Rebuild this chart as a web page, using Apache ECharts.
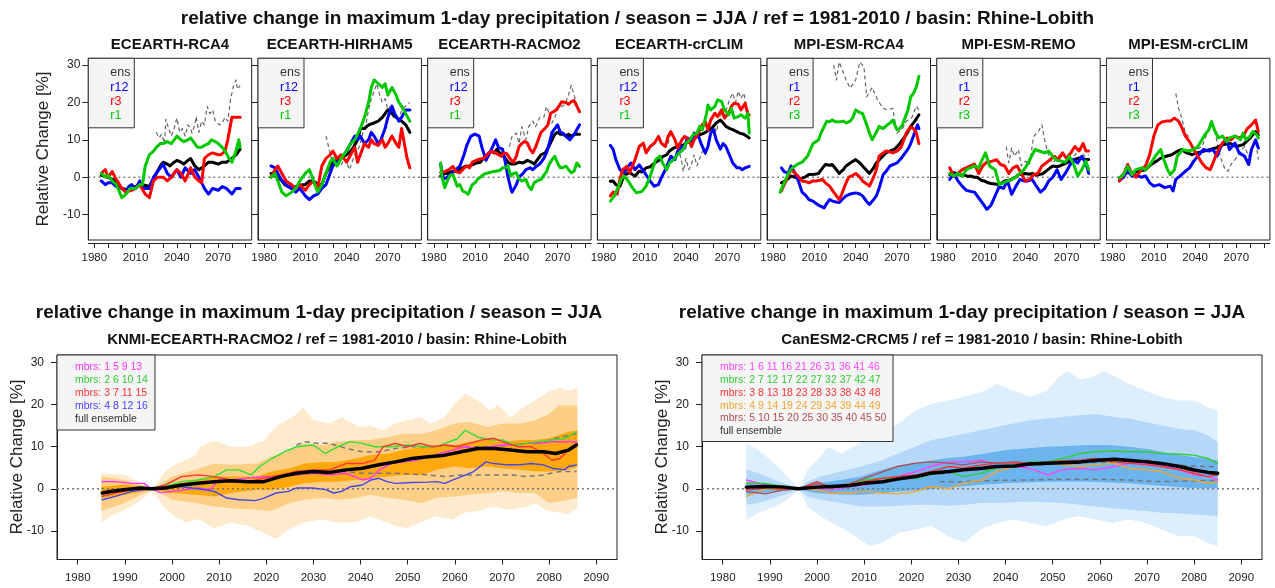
<!DOCTYPE html>
<html>
<head>
<meta charset="utf-8">
<script src="https://cdn.jsdelivr.net/npm/echarts@6/dist/echarts.min.js"></script>
<style>
html,body{margin:0;padding:0;background:#fff}
#chart{width:1275px;height:588px}
</style>
</head>
<body>
<div id="chart"></div>
<script>
// ---------- axis ranges and ticks ----------
const X_MIN = 1975.6, X_MAX = 2094.4;
const Y_MIN = -16.8, Y_MAX = 31.8;
const X_TICKS = [1980, 1990, 2000, 2010, 2020, 2030, 2040, 2050, 2060, 2070, 2080, 2090];
const TOP_X_LABELS = [1980, 2010, 2040, 2070];
const Y_TICKS = [-10, 0, 10, 20, 30];

// ---------- titles ----------
const MAIN_TITLE = 'relative change in maximum 1-day precipitation / season = JJA / ref = 1981-2010 / basin: Rhine-Lobith';
const SUB_TITLE = 'relative change in maximum 1-day precipitation / season = JJA';
const KNMI_TITLE = 'KNMI-ECEARTH-RACMO2 / ref = 1981-2010 / basin: Rhine-Lobith';
const CAN_TITLE = 'CanESM2-CRCM5 / ref = 1981-2010 / basin: Rhine-Lobith';
const Y_NAME = 'Relative Change [%]';
const TOP_MODELS = ['ECEARTH-RCA4', 'ECEARTH-HIRHAM5', 'ECEARTH-RACMO2', 'ECEARTH-crCLIM', 'MPI-ESM-RCA4', 'MPI-ESM-REMO', 'MPI-ESM-crCLIM'];
const TOP_MEMBERS = [
  ['r12', 'r3', 'r1'], ['r12', 'r3', 'r1'], ['r12', 'r3', 'r1'], ['r12', 'r3', 'r1'],
  ['r1', 'r2', 'r3'], ['r1', 'r2', 'r3'], ['r1', 'r2', 'r3']
];
const KNMI_LEGEND = ['mbrs: 1 5 9 13', 'mbrs: 2 6 10 14', 'mbrs: 3 7 11 15', 'mbrs: 4 8 12 16', 'full ensemble'];
const CAN_LEGEND = ['mbrs: 1 6 11 16 21 26 31 36 41 46', 'mbrs: 2 7 12 17 22 27 32 37 42 47', 'mbrs: 3 8 13 18 23 28 33 38 43 48',
  'mbrs: 4 9 14 19 24 29 34 39 44 49', 'mbrs: 5 10 15 20 25 30 35 40 45 50', 'full ensemble'];

// ---------- ECEARTH-RCA4 ----------
const EC_RCA4_ENS = [[1985,0.5],[1990,0],[1995,-1],[2000,-3],[2003,-3.3],[2005,-3.5],[2008,-3],[2010,-2.5],[2013,-2.2],[2015,-2],[2018,-2.3],[2020,-2.5],[2022,-1],[2025,1],[2028,3],[2030,4],[2033,3.5],[2035,3],[2038,4],[2040,4.5],[2043,4],[2045,3.5],[2048,4.5],[2050,5],[2053,3],[2056,2],[2060,3],[2063,4],[2066,4],[2070,3.5],[2073,4],[2076,4],[2080,5],[2083,6],[2086,7.5]];
const EC_RCA4_R12 = [[1985,-1],[1988,-2],[1990,-1.5],[1993,-1.5],[1996,-2.5],[2000,-3],[2003,-4],[2005,-2.5],[2007,-2],[2010,-3],[2013,-1],[2016,-3],[2020,-3],[2023,0],[2027,2],[2030,3.5],[2033,1],[2036,0],[2040,2],[2043,0],[2046,2.5],[2050,1],[2053,2],[2056,0],[2060,-3],[2063,-4.5],[2066,-3],[2070,-3.5],[2073,-2.5],[2076,-3],[2080,-4.5],[2083,-3],[2086,-3]];
const EC_RCA4_R3 = [[1985,1],[1988,2],[1990,0],[1993,1.5],[1995,0],[2000,-3],[2003,-4],[2007,-3.5],[2010,-3],[2013,-2],[2017,-4.5],[2020,-5.5],[2023,-1],[2026,0],[2030,0],[2033,-1],[2036,0],[2040,2],[2043,1],[2046,-1],[2050,2.5],[2053,0],[2056,-1],[2058,-1.5],[2060,5],[2063,6],[2066,6.5],[2070,6],[2072,6],[2075,7],[2077,10],[2080,16],[2083,16],[2086,16]];
const EC_RCA4_R1 = [[1985,1],[1988,0],[1990,0.5],[1993,-1],[1996,-2],[2000,-5.5],[2003,-4.5],[2006,-3],[2010,-3],[2013,-2],[2015,-2],[2017,3],[2020,6],[2023,7],[2025,8],[2028,9],[2030,9],[2033,9.5],[2036,9],[2040,11],[2043,10],[2045,9.5],[2048,10],[2050,10.5],[2053,9],[2055,8],[2058,8],[2060,8.5],[2063,9],[2065,10],[2068,9.5],[2070,9],[2073,8],[2075,7],[2078,5],[2080,4],[2083,7],[2085,10],[2086,8]];
const EC_RCA4_DASH = [[2025,12],[2027,10.5],[2029,11.5],[2031,9],[2032,15.5],[2034,13],[2036,11],[2038,13],[2040,15.8],[2042,12],[2044,13],[2046,11],[2048,14],[2050,13],[2051,11.8],[2053,14],[2054,16.2],[2056,12],[2058,15],[2060,14],[2062,18.9],[2064,17],[2066,18],[2068,15],[2071,14],[2073,14.5],[2075,16],[2077,15],[2079,20.7],[2081,24.2],[2083,26],[2084,23.5],[2086,24.5]];

// ---------- ECEARTH-HIRHAM5 ----------
const EC_HIRHAM5_ENS = [[1985,1],[1988,0.5],[1990,0],[1993,-1],[1995,-2],[2000,-3],[2003,-2.5],[2005,-2.5],[2008,-2],[2010,-2],[2013,-1],[2015,-1],[2018,-1.5],[2020,-2],[2022,-2],[2025,1],[2028,3],[2030,4],[2033,4.5],[2035,5],[2038,5.5],[2040,6],[2043,7],[2045,8],[2048,10],[2050,13],[2053,13],[2056,14],[2060,14.5],[2063,15],[2066,16],[2070,18],[2073,17],[2076,16],[2080,15],[2083,14],[2086,12]];
const EC_HIRHAM5_R12 = [[1985,3],[1988,2.5],[1990,1],[1993,-1],[1996,-2],[2000,-3],[2003,-4],[2006,-3],[2010,-5],[2013,-6],[2016,-5],[2019,-4.5],[2022,-3],[2025,-2],[2028,1],[2030,3],[2033,4],[2036,5],[2040,7],[2043,9],[2046,11],[2048,10],[2050,11],[2053,9],[2056,10],[2058,12],[2060,11],[2063,9],[2065,10],[2068,13],[2070,16],[2073,19],[2075,17],[2078,15],[2080,16],[2083,18],[2086,18]];
const EC_HIRHAM5_R3 = [[1985,0],[1988,2],[1990,3],[1993,1],[1996,-1],[2000,-2],[2003,-3],[2006,-2],[2010,-3.5],[2013,-2],[2016,-1],[2019,-3],[2022,3],[2025,5],[2028,6],[2030,7],[2033,5],[2036,6],[2040,4],[2043,6],[2046,8],[2048,4],[2050,6],[2053,9],[2056,8],[2058,10],[2060,9],[2063,8.5],[2066,10],[2068,8],[2070,9],[2073,11],[2076,9],[2078,8],[2080,13],[2082,9],[2084,5],[2086,2.5]];
const EC_HIRHAM5_R1 = [[1985,0],[1988,1],[1990,-1],[1993,-4],[1996,-5],[2000,-4],[2003,-3],[2006,-1],[2010,1],[2013,2],[2016,-1],[2019,-4],[2022,-2],[2025,1],[2028,4],[2030,5],[2033,3],[2036,5],[2040,7],[2043,9],[2046,10],[2050,13],[2053,16],[2056,20],[2058,24],[2060,26],[2063,25],[2066,24],[2068,25],[2070,22],[2073,24],[2076,22],[2078,20],[2080,19],[2083,17],[2086,15]];
const EC_HIRHAM5_DASH = [[2025,11],[2027,8],[2029,5],[2031,6],[2033,4],[2036,3],[2038,5],[2040,4],[2042,2],[2044,4],[2046,6],[2048,7],[2050,9],[2052,12],[2054,14],[2056,18],[2058,21],[2060,23],[2062,25],[2064,22],[2066,20],[2068,21],[2070,18],[2072,19],[2074,16],[2076,17],[2078,15],[2080,18],[2083,19],[2086,20]];

// ---------- ECEARTH-RACMO2 ----------
const EC_RACMO2_ENS = [[1985,0.3],[1988,1],[1990,1],[1994,1.6],[1998,2],[2001,2.5],[2003,2.9],[2006,3],[2008,3.3],[2011,3.8],[2014,4],[2016,5],[2018,5.6],[2020,6.5],[2022,7],[2024,6.5],[2026,7.5],[2028,6.5],[2030,6],[2032,5],[2034,4],[2036,3.5],[2039,3.5],[2042,4],[2045,3.8],[2048,4.5],[2051,4],[2053,3.5],[2056,5],[2058,6],[2061,6.5],[2064,8.5],[2066,10],[2068,11.5],[2070,12],[2072,11.5],[2074,11.5],[2076,11],[2078,11.5],[2080,11],[2083,11.5],[2086,11.5]];
const EC_RACMO2_R12 = [[1985,3.4],[1987,-0.5],[1990,0],[1993,1],[1996,2],[1999,3],[2002,6],[2004,8.5],[2007,11],[2010,11.5],[2013,11],[2015,8],[2018,4.5],[2020,6],[2022,7.5],[2025,10],[2027,8],[2030,7.5],[2032,4],[2034,0],[2036,-3],[2037,-4],[2040,-2],[2042,0],[2045,1],[2047,2],[2050,2.5],[2052,2],[2055,3],[2057,3.5],[2060,5],[2062,6.5],[2064,9],[2066,12],[2068,13],[2070,14],[2072,12],[2074,11.8],[2076,11],[2079,10],[2081,11],[2083,12],[2086,14]];
const EC_RACMO2_R3 = [[1985,1.2],[1988,1.5],[1991,2],[1994,2.9],[1996,1.5],[1999,1.2],[2001,2],[2004,3],[2006,2.5],[2008,4],[2011,4.5],[2013,4.8],[2016,5],[2018,5.6],[2020,6.5],[2022,6.9],[2025,6.5],[2027,6],[2029,5.6],[2031,6.5],[2033,6.3],[2036,4.7],[2038,4],[2040,5.6],[2042,8.2],[2044,9],[2046,9.6],[2048,9.2],[2050,7.5],[2052,6.5],[2054,8],[2056,10],[2058,12],[2060,12.7],[2063,14],[2065,17.1],[2067,17.5],[2069,18],[2071,19],[2073,20.2],[2076,20],[2078,19.5],[2080,20.2],[2082,20.5],[2084,19],[2086,17.5]];
const EC_RACMO2_R1 = [[1985,3.8],[1986,0],[1988,-2.8],[1990,-0.8],[1992,0.5],[1994,0.7],[1997,-2.4],[1999,-2],[2001,-3.7],[2003,-4],[2005,-4.6],[2008,-2],[2010,-1.5],[2012,-0.5],[2014,0],[2016,0.7],[2018,1],[2020,1.2],[2023,1.5],[2025,1.6],[2028,1.8],[2030,2.5],[2032,2.5],[2034,3],[2036,0.3],[2038,1],[2040,1.2],[2042,-0.5],[2044,-1],[2047,-0.6],[2049,-2.5],[2051,-3.3],[2053,-1.5],[2055,-1],[2058,-0.6],[2060,0.5],[2062,1.5],[2064,3.5],[2066,4.7],[2068,5.6],[2070,3.8],[2072,2.5],[2074,2.6],[2076,3],[2078,2],[2080,1.2],[2082,1.6],[2084,3.8],[2086,2.9]];
const EC_RACMO2_DASH = [[2035,8.2],[2037,11],[2040,11.8],[2042,9],[2044,13.5],[2047,10],[2049,13.5],[2052,15],[2054,13.5],[2057,16],[2060,16],[2062,18.9],[2064,17],[2066,14.5],[2068,16],[2071,18.9],[2074,19],[2076,20],[2078,22],[2080,24.6],[2082,22],[2084,19.5],[2086,18]];

// ---------- ECEARTH-crCLIM ----------
const EC_CRCLIM_ENS = [[1985,-1.1],[1987,-1],[1989,-2],[1992,-2.4],[1994,-0.5],[1996,0.7],[1999,1.2],[2003,0.3],[2006,1.6],[2008,1.4],[2011,2.5],[2014,2.8],[2016,3.4],[2018,4],[2021,4.7],[2023,5.5],[2026,6],[2028,7],[2031,7.8],[2033,8],[2035,8.7],[2038,8.5],[2040,9.1],[2043,9.6],[2045,10.5],[2048,10.8],[2050,11.3],[2053,11.8],[2055,12.2],[2058,13],[2060,13.6],[2062,14.5],[2065,15.3],[2067,14.5],[2069,13.6],[2072,13],[2074,12.7],[2077,12.2],[2079,11.8],[2082,11.5],[2084,11],[2086,10.5]];
const EC_CRCLIM_R12 = [[1985,8.5],[1987,7.5],[1989,4.7],[1992,2],[1995,1.2],[1998,2.9],[2000,3.8],[2003,2],[2006,3.3],[2010,1.2],[2014,-1.1],[2017,-2.4],[2020,-2],[2022,-0.2],[2025,2],[2027,3.8],[2029,5.6],[2032,4.7],[2034,7],[2037,8.2],[2039,7.8],[2041,10.5],[2044,9.6],[2046,11.8],[2049,11],[2051,9],[2054,6.5],[2056,8.2],[2058,11.8],[2060,12.7],[2062,10],[2065,7.5],[2067,9],[2069,8.2],[2072,5.6],[2074,3.8],[2077,2.5],[2079,2.5],[2081,2],[2083,2.5],[2086,2.9]];
const EC_CRCLIM_R3 = [[1985,-5],[1987,-4],[1990,-4.5],[1992,-0.5],[1994,2],[1997,2.9],[1999,1.2],[2003,4.7],[2006,8.2],[2009,9.1],[2011,6.5],[2014,8.2],[2017,9.1],[2020,10.9],[2022,9.1],[2025,8.2],[2027,10.9],[2029,12.2],[2032,10],[2034,7.8],[2037,10],[2039,10.9],[2042,10],[2044,8.2],[2046,10],[2049,11.8],[2051,13.6],[2054,14.9],[2056,12.7],[2058,15.3],[2061,17.1],[2063,16.2],[2066,18],[2068,15.8],[2071,17.1],[2073,18.9],[2075,19.8],[2078,19.5],[2080,18],[2083,19.8],[2085,16.7],[2086,16.7]];
const EC_CRCLIM_R1 = [[1985,-6.4],[1988,-5],[1991,-2.4],[1993,-0.5],[1995,0.3],[1998,-1],[2001,-2.8],[2004,-4.2],[2008,-3.8],[2011,-2.4],[2014,0.3],[2016,2.5],[2018,4.7],[2021,5.6],[2023,3.8],[2026,2],[2028,3.8],[2031,4.7],[2033,5.6],[2035,6.5],[2038,7.4],[2040,9.1],[2043,10],[2045,11.3],[2048,11.8],[2050,13.6],[2052,12.7],[2055,17.1],[2056,19.3],[2058,18],[2061,18.9],[2063,20.7],[2066,20.2],[2068,18],[2071,16.7],[2073,18.4],[2075,15.8],[2078,16.2],[2080,16.7],[2083,15.8],[2085,17.1],[2086,11.8]];
const EC_CRCLIM_DASH = [[2027,9],[2029,12],[2031,10.9],[2033,9],[2035,7],[2037,4],[2038,1.5],[2040,5],[2042,2],[2044,3.5],[2046,6],[2048,3],[2050,5],[2052,7],[2054,6],[2056,8],[2058,12.7],[2060,14],[2062,12],[2064,15.3],[2066,17],[2068,16],[2070,18.9],[2072,21],[2074,22.5],[2076,20],[2078,23],[2080,21],[2082,22.5],[2084,19],[2086,17]];

// ---------- MPI-ESM-RCA4 ----------
const MPI_RCA4_ENS = [[1986,-1.5],[1989,-1],[1993,0.3],[1996,0],[1999,-0.6],[2003,0],[2006,0.7],[2010,0.8],[2013,1],[2016,2.5],[2018,3.4],[2021,3.2],[2023,3.4],[2026,2],[2028,1],[2031,2],[2033,3],[2036,3.8],[2040,4.7],[2043,3.8],[2045,3],[2048,1.8],[2050,1],[2053,2.5],[2055,3.8],[2058,5],[2062,6.5],[2065,7],[2068,7.4],[2071,8.5],[2074,10],[2077,11.5],[2080,13.6],[2083,15],[2086,16.7]];
const MPI_RCA4_R1 = [[1986,2.5],[1988,1.5],[1991,1],[1993,3],[1996,1],[1998,-0.6],[2001,-4],[2004,-5],[2006,-6],[2009,-6.4],[2011,-7],[2014,-7.7],[2017,-8.2],[2019,-7],[2021,-6],[2024,-6.5],[2028,-6.8],[2030,-6],[2033,-5],[2036,-4.5],[2040,-4.2],[2043,-4.5],[2045,-5],[2048,-6.5],[2050,-7.3],[2053,-6],[2055,-5],[2057,-3],[2060,0.7],[2062,1.5],[2065,3],[2068,3.5],[2070,3.8],[2073,5],[2076,6.5],[2078,7.5],[2080,9],[2082,11],[2085,14],[2086,13]];
const MPI_RCA4_R2 = [[1986,-3.7],[1988,-2],[1991,0.5],[1993,2],[1996,1],[1998,0.3],[2001,-1],[2004,-1.2],[2006,-1.5],[2009,-1],[2011,-1],[2014,-0.8],[2016,-0.6],[2018,-1.5],[2021,-2.4],[2024,-4],[2026,-5],[2028,-6],[2030,-4.4],[2033,-1.5],[2035,0],[2038,0.5],[2040,1],[2043,0],[2045,-1],[2048,-1.8],[2050,-2.4],[2053,0],[2055,2],[2057,5.6],[2060,6.5],[2062,7],[2065,6.8],[2067,6.5],[2070,7],[2073,8],[2075,10],[2077,12],[2080,13.5],[2082,13],[2084,12],[2086,9]];
const MPI_RCA4_R3 = [[1985,-4],[1988,-1.5],[1991,1],[1994,2.5],[1998,3.5],[2001,4],[2005,5.6],[2009,9],[2011,9.5],[2013,10],[2015,12],[2017,13.5],[2019,15],[2021,14.8],[2023,15.3],[2025,14.8],[2028,14.8],[2031,15],[2033,14.5],[2036,15],[2038,16],[2040,18],[2042,17.5],[2045,17],[2048,14],[2050,11.8],[2052,10],[2055,12],[2057,13.6],[2060,13],[2063,14],[2065,14.5],[2067,15.3],[2070,12.7],[2072,13],[2074,14],[2076,16],[2078,18],[2080,21.5],[2082,22.4],[2084,24],[2086,27]];
const MPI_RCA4_DASH = [[2024,30],[2026,26],[2028,30.8],[2030,29],[2033,26],[2036,23.8],[2040,26],[2043,30.8],[2046,29.5],[2048,21.5],[2052,24],[2056,20.6],[2060,18.4],[2063,18],[2067,18.4],[2070,11.8],[2074,13],[2077,15],[2081,16],[2084,19],[2086,18]];

// ---------- MPI-ESM-REMO ----------
const MPI_REMO_ENS = [[1985,0.7],[1988,1.2],[1990,1],[1993,0.5],[1995,0.7],[1998,0.2],[2000,0.3],[2003,0],[2005,0],[2008,-0.8],[2010,-1],[2013,-1.5],[2015,-1.7],[2018,-1.8],[2020,-2],[2023,-1.5],[2025,-1],[2028,-0.8],[2030,-0.6],[2033,0],[2035,0.7],[2038,0.8],[2040,1],[2043,0.8],[2045,1],[2048,0.5],[2050,0.7],[2053,1],[2055,1.6],[2058,2.5],[2060,3],[2063,2.8],[2065,3],[2068,3.5],[2070,3.8],[2073,4.5],[2075,4.7],[2078,5],[2080,5.2],[2083,4.8],[2086,4.7]];
const MPI_REMO_R1 = [[1985,-0.6],[1988,1],[1991,-1],[1994,-2.4],[1997,-3.5],[2000,-3.8],[2003,-4],[2006,-5.5],[2009,-7],[2012,-8.6],[2015,-7.5],[2018,-5],[2021,-2.5],[2024,-3],[2027,-1],[2030,-4.6],[2033,-2.5],[2036,-0.6],[2039,-1],[2042,-1],[2045,-0.6],[2048,-2.4],[2051,-4],[2054,-3],[2057,-1],[2060,0],[2063,2],[2066,-0.6],[2069,1],[2072,3],[2075,4.7],[2078,3.8],[2081,5.6],[2084,3.8],[2086,1]];
const MPI_REMO_R2 = [[1985,2.5],[1988,0.3],[1991,1],[1994,2],[1997,2.5],[2000,3],[2003,3.5],[2006,1],[2009,3],[2012,4],[2016,4.3],[2019,4.7],[2022,3.4],[2025,3],[2028,1],[2031,2.5],[2034,3],[2037,1],[2040,-1],[2043,-0.6],[2046,0.7],[2049,1],[2052,3],[2055,3.8],[2058,4.7],[2061,5.6],[2064,4.7],[2067,6.5],[2070,5],[2073,6.5],[2076,8.2],[2079,7],[2082,9],[2084,7],[2086,7]];
const MPI_REMO_R3 = [[1985,1],[1988,0.3],[1991,1],[1994,0.3],[1997,2],[2000,2.5],[2003,3],[2006,2.5],[2009,5],[2011,6.5],[2014,3],[2018,2],[2021,-2],[2024,-1.5],[2027,-1],[2030,-0.6],[2033,0],[2036,1],[2039,2],[2042,3.8],[2045,6],[2047,7.4],[2050,7],[2054,6.5],[2057,7],[2060,5.5],[2063,4.5],[2066,4.3],[2069,4],[2072,5.6],[2075,3.5],[2078,0.3],[2081,2],[2084,4.3],[2086,2]];
const MPI_REMO_DASH = [[2026,8.2],[2028,3.8],[2030,7.8],[2032,5.6],[2035,7.4],[2037,3],[2040,4.3],[2043,3.4],[2046,10.9],[2049,12],[2052,14],[2054,10],[2057,5.6],[2060,3.8],[2064,5.6],[2067,6.5],[2071,4.7],[2075,5.6],[2080,7.4],[2083,5.6],[2086,6]];

// ---------- MPI-ESM-crCLIM ----------
const MPI_CRCLIM_ENS = [[1985,-0.2],[1990,1.2],[1994,1.2],[1999,1.6],[2004,2],[2008,3.4],[2012,4.3],[2015,5.1],[2019,5.6],[2023,6],[2027,6.9],[2030,7.4],[2034,6.5],[2038,6],[2041,6.5],[2046,6.9],[2051,7.4],[2055,7.8],[2060,8.7],[2065,9.1],[2070,8.2],[2075,8.7],[2080,10.5],[2084,12.2],[2086,11.3]];
const MPI_CRCLIM_R1 = [[1985,-1],[1988,0],[1991,2],[1994,0.3],[1997,0.5],[2001,0],[2004,0.3],[2007,-1.5],[2010,-2.4],[2014,-2],[2018,-2.8],[2022,-2.4],[2024,-3.7],[2026,-0.6],[2029,0.3],[2033,1.6],[2036,2.5],[2039,4.3],[2042,5.6],[2046,7.4],[2050,7],[2053,7.4],[2056,5.6],[2058,7.4],[2060,9.1],[2063,10],[2065,7.4],[2069,9.1],[2072,6.5],[2076,5.6],[2079,3.4],[2081,7.4],[2084,10],[2086,7.8]];
const MPI_CRCLIM_R2 = [[1985,-1],[1988,0.7],[1991,3.4],[1994,1],[1997,0],[2001,2],[2004,3],[2007,6],[2010,11],[2013,14],[2016,14.8],[2019,15],[2022,15],[2025,15.8],[2028,15],[2030,13.6],[2033,11],[2036,9.5],[2039,7.4],[2042,5.6],[2045,3.8],[2048,2.5],[2051,2],[2054,4.7],[2057,7.4],[2060,9.1],[2063,10.5],[2066,10],[2069,11],[2072,10.5],[2075,11],[2078,13],[2081,14],[2084,15.3],[2086,12.2]];
const MPI_CRCLIM_R3 = [[1985,-0.2],[1988,0.7],[1991,2.9],[1994,0.7],[1997,2],[2001,2.5],[2004,2],[2008,3.8],[2011,5.6],[2015,7.4],[2017,5],[2020,2],[2022,0.7],[2025,2],[2027,5.6],[2031,7.4],[2035,7],[2039,7.4],[2042,8.2],[2045,10],[2047,11.3],[2050,12.7],[2052,14.9],[2054,12.7],[2057,10.5],[2060,11],[2063,9.5],[2065,10.5],[2069,11],[2073,10],[2075,11.8],[2077,10],[2080,11],[2082,12.2],[2085,11.3],[2086,10.5]];
const MPI_CRCLIM_DASH = [[2026,22.4],[2028,18.4],[2030,16.2],[2033,11.8],[2035,11],[2037,8.2],[2041,7.4],[2045,8.2],[2048,11],[2052,14.9],[2054,13],[2057,7.4],[2059,4.7],[2062,2],[2064,1.6],[2066,3.4],[2069,4.7],[2071,5.6],[2074,7.4],[2076,8.2],[2079,5.6],[2081,7.4],[2084,10],[2086,4.7]];

// ---------- KNMI-ECEARTH-RACMO2 (16 members) ----------
const KNMI_OUTER_HI = [[1985,3.7],[1990,3.3],[1993,1.7],[1996,0.3],[1998.5,4],[2001,6],[2004.6,7.6],[2006,10],[2009,11.5],[2012.5,10],[2016,10],[2019.5,11.5],[2021,13.5],[2023,15.5],[2025.6,17],[2027.8,19.4],[2030,16.3],[2033.4,15.5],[2036,17],[2039.5,14.7],[2042,15],[2044.8,14],[2047.4,15.5],[2050,16.3],[2052.6,17],[2055,15.5],[2057.9,17],[2059.6,19.8],[2062.2,22.6],[2064.9,21],[2067.5,18.6],[2069.2,20],[2071.8,17],[2074.5,19.4],[2077,21],[2079.7,23],[2082.3,24],[2084,23.3],[2086,24]];
const KNMI_OUTER_LO = [[1985,-8],[1987,-6.5],[1990,-5],[1992.5,-3.4],[1996,-0.5],[1998,-4],[2000.5,-6.5],[2003,-8],[2005.5,-7.2],[2009,-9.3],[2012.5,-8],[2016,-8.8],[2019.5,-10.5],[2022,-11.9],[2024.7,-9.7],[2028,-8],[2031.7,-7.3],[2035,-8],[2038.7,-8],[2042,-6.5],[2045.6,-8],[2048,-9],[2050,-9.3],[2052.6,-8],[2056,-6.5],[2059.6,-7.3],[2062,-5.7],[2065,-5.3],[2068,-4.2],[2071.8,-5],[2075.3,-4.2],[2077,-3.4],[2079.7,-5.3],[2082.3,-5.7],[2084,-6],[2086,-4.6]];
const KNMI_MID_HI = [[1985,2.9],[1990,2.1],[1996,0],[2000,2.9],[2005,4.5],[2009,6],[2012.5,5.7],[2018,6],[2021,7.6],[2025,9.2],[2028,10.8],[2032,10.4],[2035,11.2],[2039,11.6],[2042,11.6],[2046,12.3],[2049,13.1],[2053,13.1],[2056,13.9],[2060,15.5],[2063,15.9],[2067,14.7],[2070,15.5],[2074,15.5],[2077,16.3],[2080,17.8],[2082,19.8],[2086,19.8]];
const KNMI_MID_LO = [[1985,-5.3],[1990,-3.4],[1996,0],[2000,-2.6],[2005,-3.4],[2009,-4.2],[2012.5,-4.6],[2018,-5],[2021,-5.3],[2025,-3.4],[2028,-2.6],[2032,-2.2],[2035,-2.6],[2039,-2.2],[2042,-1.4],[2046,-2.2],[2049,-2.6],[2053,-3.4],[2056,-2.2],[2060,-1.8],[2063,-1.4],[2067,-1],[2070,-0.6],[2074,-1],[2077,-1],[2080,-3.4],[2082,-3],[2086,-2.2]];
const KNMI_IN_HI = [[1985,0.5],[1990,1],[1996,0.2],[2000,1],[2005,2.1],[2009,2.9],[2012.5,2.9],[2018,2.9],[2021,4.1],[2025,4.9],[2028,6],[2032,6.4],[2035,6.4],[2039,7.2],[2042,8],[2046,8.4],[2049,9.2],[2053,10],[2056,10.4],[2060,10.4],[2063,11.2],[2067,11.6],[2070,11.2],[2074,11.6],[2077,11.6],[2080,12],[2084,13.5],[2086,13.9]];
const KNMI_IN_LO = [[1985,-2.2],[1990,-1.4],[1996,-0.2],[2000,-1],[2005,-1.4],[2009,-1.8],[2012.5,-1],[2018,-0.2],[2021,-0.2],[2025,0.5],[2028,1.3],[2032,1.7],[2035,1.7],[2039,2.1],[2042,2.5],[2046,2.9],[2049,3.3],[2053,3.3],[2056,4.5],[2060,5.3],[2063,4.9],[2067,5.3],[2070,4.9],[2074,4.5],[2077,4.1],[2080,4.1],[2084,4.5],[2086,5.3]];
const KNMI_MAGENTA = [[1985.2,1.7],[1988,1.7],[1991.5,1.3],[1994.1,1.3],[1995.5,0],[1997.6,-0.9],[2000.3,-0.6],[2002.9,-0.2],[2005.5,0.2],[2008.1,-0.2],[2009.9,2.1],[2012.5,2.1],[2016,2.5],[2019.5,2.9],[2023,2.9],[2026.4,3.3],[2029.9,3.7],[2033.4,3.3],[2036.9,3.7],[2038.7,2.9],[2040.4,2.1],[2042.2,2.5],[2043.9,4.5],[2046.5,6],[2049.1,6.4],[2051.8,6.8],[2054.4,7.6],[2057,8.4],[2059.6,9.2],[2062.2,10],[2064.9,9.6],[2067.5,10],[2070.1,10.4],[2072.7,10.4],[2075.3,10.8],[2077.9,10.8],[2080.6,11.2],[2083.2,11.2],[2085.8,11.2]];
const KNMI_GREEN = [[1985.2,-1.8],[1989.8,-0.2],[1995.5,0],[1998.5,0.5],[2002,1.7],[2005.5,2.1],[2009,2.9],[2011.6,4.5],[2014.2,4.5],[2016.8,3.3],[2018.6,5.3],[2021.2,7.2],[2023.8,8.8],[2026.4,10],[2029.9,10.4],[2032.6,8.4],[2035.2,10],[2037.8,11.2],[2040.4,10.8],[2043,10],[2046.5,10],[2050,10.4],[2053.5,10],[2056.1,10],[2057.9,10.8],[2060.5,11.9],[2062.2,13.9],[2064.9,12.3],[2067.5,11.6],[2070.1,11.6],[2072.7,10.4],[2075.3,10.8],[2077.9,11.2],[2080.6,11.6],[2083.2,11.9],[2085.8,13.5]];
const KNMI_RED = [[1985.2,-1.8],[1988,-1],[1991.5,-0.2],[1995.5,0],[1998.5,0.9],[2002,2.9],[2005.5,3.3],[2009,2.9],[2012.5,2.1],[2016,1.7],[2019.5,2.5],[2023,3.3],[2026.4,4.1],[2029.9,4.5],[2033.4,4.5],[2036.9,6],[2040.4,6],[2043,6.8],[2044.8,10],[2047.4,10.8],[2050,10],[2052.6,10.8],[2055.3,10],[2057.9,10.4],[2060.5,10],[2063.1,10.8],[2065.7,11.6],[2068.3,12],[2071,10.8],[2073.6,10],[2076.2,10],[2078.8,8.4],[2080.6,6.8],[2082.3,7.2],[2084.1,9.2],[2085.8,10.8]];
const KNMI_BLUE = [[1985.2,-2.6],[1988,-1.8],[1991.5,-0.6],[1995.5,0],[1998.5,0.5],[2002,0.5],[2005.5,0],[2009,-0.6],[2011.6,-2.2],[2014.2,-2.6],[2017.7,-2.8],[2019.5,-2.2],[2022.1,-1],[2024.7,-0.6],[2026.4,0.2],[2029.9,0.2],[2032.6,-0.2],[2034.3,-1],[2036,-0.6],[2037.8,0.5],[2040.4,0.9],[2042.2,2.1],[2043.9,2.5],[2045.6,1.7],[2047.4,1.3],[2050.9,1.5],[2054.4,1.6],[2056.1,1.7],[2057.9,1.3],[2059.6,2.1],[2061.4,2.9],[2064,4.1],[2066.6,6.4],[2068.3,6],[2071,5.7],[2073.6,5.7],[2076.2,6],[2078.8,5.7],[2080.6,4.9],[2083.2,4.5],[2084.1,5.3],[2085.8,5.7]];
const KNMI_MEAN = [[1985.2,-1],[1987.2,-0.6],[1989.8,-0.2],[1993.3,0.2],[1995.5,0],[1998.5,0.2],[2002,0.9],[2005.5,1.3],[2009,1.7],[2012.5,1.9],[2016,1.7],[2019.5,1.7],[2023,2.9],[2026.4,3.7],[2029.9,4.1],[2033.4,3.9],[2036.9,4.5],[2040.4,4.9],[2043.9,5.7],[2047.4,6.4],[2050.9,7.2],[2054.4,7.6],[2057.9,8],[2061.4,8.8],[2064.9,9.6],[2068.3,9.6],[2071.8,9.2],[2075.3,8.8],[2078.8,8.8],[2081.4,8.4],[2084.1,9.2],[2085.8,10.4]];
const KNMI_DASH_HI = [[2026.4,10.4],[2028.2,11.2],[2030.8,10.8],[2033.4,10.8],[2036.9,9.6],[2040.4,8.8],[2043.9,8.8],[2047.4,9.6],[2050.9,10],[2054.4,10],[2057.9,10.4],[2061.4,10],[2064.9,10],[2068.3,10],[2071.8,10.4],[2075.3,10.8],[2078.8,11.2],[2082.3,12.3],[2085.8,13.1]];
const KNMI_DASH_LO = [[2026.4,3.3],[2029.9,4.1],[2033.4,4.1],[2036.9,4.1],[2040.4,3.7],[2043.9,3.7],[2047.4,3.7],[2050.9,3.5],[2054.4,3.3],[2057.9,2.9],[2061.4,3.3],[2064.9,3.3],[2068.3,3.3],[2071.8,3.3],[2075.3,2.9],[2078.8,3.3],[2082.3,4.1],[2085.8,4.1]];

// ---------- CanESM2-CRCM5 (50 members) ----------
const CAN_OUTER_HI = [[1985,10.8],[1987.6,9.2],[1991,6],[1993.7,2.9],[1996.2,0],[1998,4.5],[2000.7,7.6],[2002.4,10],[2005,8.4],[2007.7,10],[2010.3,11.6],[2013.8,13.1],[2017.3,15.5],[2020.8,18.6],[2024.3,20.2],[2027.8,21],[2031.2,21.8],[2035.6,23.3],[2038.2,24.9],[2041.7,23.3],[2045.2,21.8],[2048.7,23.3],[2051.3,26.5],[2053.1,28],[2055.7,26],[2058.3,26.5],[2060.9,28],[2063.5,26.5],[2066.2,24.9],[2069.7,23.3],[2073.1,21.8],[2076.6,21],[2080.1,21],[2082.8,19.4],[2085,18.6]];
const CAN_OUTER_LO = [[1985,-7.3],[1987.6,-5.7],[1991,-4.2],[1993.7,-2.6],[1996.2,-0.2],[1998,-4.2],[2000.7,-6.5],[2003.3,-8.1],[2005.9,-9.7],[2008.5,-11.6],[2011.2,-13.6],[2013.8,-12.8],[2017.3,-10.5],[2020.8,-9.7],[2024.3,-8.9],[2027.8,-11.3],[2031.2,-12.8],[2034.7,-9.7],[2038.2,-8.1],[2041.7,-7.3],[2045.2,-8.1],[2048.7,-8.9],[2052.2,-7.3],[2055.7,-6.5],[2059.2,-7.3],[2062.7,-8.1],[2066.2,-7.3],[2069.7,-8.1],[2073.1,-9.7],[2076.6,-11.3],[2080.1,-11.3],[2082.8,-12.8],[2085,-13.6]];
const CAN_MID_HI = [[1985,4.5],[1987.6,3.7],[1991,2.1],[1993.7,1],[1996.2,0],[1998,1.7],[2000.7,2.9],[2005,4.1],[2009.4,5.3],[2013.8,6.8],[2017.3,8.4],[2020.8,10],[2024.3,11.6],[2027.8,12.3],[2031.2,13.1],[2034.7,13.9],[2038.2,14.7],[2041.7,15.5],[2045.2,16.3],[2048.7,16.7],[2052.2,17.1],[2055.7,17.5],[2059.2,17.8],[2062.7,17.1],[2066.2,16.7],[2069.7,15.9],[2073.1,15.1],[2076.6,14.3],[2080.1,13.9],[2082.8,12.7],[2085,11.2]];
const CAN_MID_LO = [[1985,-3.8],[1987.6,-3.4],[1991,-2.2],[1993.7,-1.2],[1996.2,-0.2],[1998,-1.8],[2000.7,-2.6],[2005,-3.4],[2009.4,-4.2],[2013.8,-4.2],[2017.3,-4],[2020.8,-3.8],[2024.3,-3.8],[2027.8,-4],[2031.2,-3.8],[2034.7,-3.4],[2038.2,-3.4],[2041.7,-3.2],[2045.2,-3],[2048.7,-3.2],[2052.2,-3.4],[2055.7,-3.8],[2059.2,-4.2],[2062.7,-4.6],[2066.2,-5],[2069.7,-5.3],[2073.1,-5.7],[2076.6,-5.8],[2080.1,-6.1],[2082.8,-6.3],[2085,-6.5]];
const CAN_IN_HI = [[1985,1.7],[1987.6,1.5],[1991,0.9],[1996.2,0],[1999.8,1.3],[2005.1,2.1],[2009.4,2.9],[2013.8,4.5],[2018.1,5.7],[2022.5,6.4],[2026.9,7.2],[2031.2,7.6],[2035.6,8.4],[2040,9.2],[2044.3,9.6],[2048.7,10],[2053.1,10.2],[2057.4,10.4],[2061.8,10.4],[2066.2,10],[2070.5,9.4],[2074.9,8.4],[2079.3,7.6],[2082.8,7.2],[2085,6.8]];
const CAN_IN_LO = [[1985,-1.4],[1987.6,-1.2],[1991,-0.6],[1996.2,-0.2],[1999.8,-1],[2005.1,-1.4],[2009.4,-1.4],[2013.8,-1],[2018.1,-0.6],[2022.5,-0.2],[2026.9,0.2],[2031.2,0.6],[2035.6,1],[2040,1.3],[2044.3,1.5],[2048.7,1.7],[2053.1,1.7],[2057.4,1.7],[2061.8,1.5],[2066.2,1.3],[2070.5,0.9],[2074.9,0.6],[2079.3,0.2],[2082.8,0.2],[2085,0.2]];
const CAN_YEARS = [1985,1989,1993,1996,2000,2003,2007,2010,2014,2017,2021,2024,2028,2031,2035,2038,2042,2045,2049,2052,2056,2059,2063,2066,2070,2073,2077,2080,2083,2085];
const CAN_MAGENTA = [2.1,0.9,0.4,0,0.15,-0.25,0.55,0.9,1.7,2.9,4.1,5.3,6.4,6.4,6.8,5.3,5.3,4.9,3.3,4.5,4.9,4.5,5.3,6,6,5.7,4.5,3.3,2.9,2.1];
const CAN_GREEN = [1.3,1.3,0.55,0,0.55,0.15,0.9,2.1,2.5,2.5,2.5,3.3,4.1,2.9,3.7,4.9,5.7,6.4,6.4,7.2,8.4,8.8,9,8.8,8.8,8.4,8.2,8,7.2,6];
const CAN_RED = [-0.25,0.15,-0.25,0,1.3,0.55,0.9,1.7,2.5,2.9,3.3,4.1,5.3,4.9,5.7,6.1,6.1,5.7,6.1,6.4,6.8,7.2,6.4,6.1,5.7,5.3,4.5,3.7,2.9,3.3];
const CAN_ORANGE = [-1.8,0,0.15,0,-0.25,-1,-1,-0.6,-1,-1.2,-0.6,0.55,0,1.3,2.1,4.1,5.3,6.1,6.1,5.7,5.3,5.7,6.1,4.9,4.5,4.1,2.5,2.1,1.3,1.7];
const CAN_BROWN = [-0.6,-1.2,-0.25,0,1.7,0.15,1.3,2.5,4.1,5.3,6.1,6.4,6.1,5.7,6.4,6.1,6.4,6.1,6.4,6.7,6.8,7.2,6.8,6.4,6.8,6.1,4.9,4.1,3.7,3.3];
const CAN_MEAN = [0.4,0.55,0.4,0,0.4,0.55,0.8,1.3,1.7,2.3,2.9,3.7,4.1,4.5,4.9,5.3,5.4,5.9,6.1,6.2,6.4,6.7,7,6.8,6.4,6,5.3,4.5,3.9,3.7];
const CAN_DASH_YEARS = [2026,2031,2038,2045,2052,2059,2066,2073,2080,2085];
const CAN_DASH_HI = [3.5,4.2,5,5.6,6,6.3,6.2,5.8,5.4,5.2];
const CAN_DASH_LO = [1.7,1.7,2,2.1,2.3,2.3,2.1,1.7,1.9,2];

// ---------- drawing ----------
const FONT = '"Liberation Sans", Arial, Helvetica, sans-serif';
const TOP_SERIES = [
  [EC_RCA4_DASH, EC_RCA4_ENS, EC_RCA4_R12, EC_RCA4_R3, EC_RCA4_R1],
  [EC_HIRHAM5_DASH, EC_HIRHAM5_ENS, EC_HIRHAM5_R12, EC_HIRHAM5_R3, EC_HIRHAM5_R1],
  [EC_RACMO2_DASH, EC_RACMO2_ENS, EC_RACMO2_R12, EC_RACMO2_R3, EC_RACMO2_R1],
  [EC_CRCLIM_DASH, EC_CRCLIM_ENS, EC_CRCLIM_R12, EC_CRCLIM_R3, EC_CRCLIM_R1],
  [MPI_RCA4_DASH, MPI_RCA4_ENS, MPI_RCA4_R1, MPI_RCA4_R2, MPI_RCA4_R3],
  [MPI_REMO_DASH, MPI_REMO_ENS, MPI_REMO_R1, MPI_REMO_R2, MPI_REMO_R3],
  [MPI_CRCLIM_DASH, MPI_CRCLIM_ENS, MPI_CRCLIM_R1, MPI_CRCLIM_R2, MPI_CRCLIM_R3]
];
const MEMBER_COLORS = ['#0000FF', '#FF0000', '#00C800'];

const grids = [], xAxes = [], yAxes = [], series = [], graphics = [];

function text(str, x, y, size, color, opts) {
  opts = opts || {};
  graphics.push({
    type: 'text', x: x, y: y, z: 100, rotation: opts.rotation || 0, silent: true,
    style: {
      text: str, fill: color, font: (opts.bold ? 'bold ' : '') + size + 'px ' + FONT,
      textAlign: opts.align || 'center', textVerticalAlign: 'middle',
      align: opts.align || 'center', verticalAlign: 'middle'
    }
  });
}
function box(x, y, w, h) {
  graphics.push({ type: 'rect', z: 90, silent: true, shape: { x: x, y: y, width: w, height: h },
    style: { fill: '#f5f5f5', stroke: '#333', lineWidth: 1 } });
}
function plainNumber(v) { return String(v); }
function xAxis(gi, labels, offset, margin) {
  return { type: 'value', gridIndex: gi, min: X_MIN, max: X_MAX, position: 'bottom', offset: offset,
    axisLine: { show: true, onZero: false, lineStyle: { color: '#222', width: 1 } },
    axisTick: { show: true, customValues: X_TICKS, length: 5, lineStyle: { color: '#222', width: 1 } },
    axisLabel: { show: true, customValues: labels, margin: margin, fontSize: 11.5, color: '#222', fontFamily: FONT, formatter: plainNumber },
    splitLine: { show: false } };
}
function yAxis(gi, showLabels, margin) {
  return { type: 'value', gridIndex: gi, min: Y_MIN, max: Y_MAX, position: 'left',
    axisLine: { show: true, onZero: false, lineStyle: { color: '#222', width: 1 } },
    axisTick: { show: true, customValues: Y_TICKS, length: 6, lineStyle: { color: '#222', width: 1 } },
    axisLabel: { show: showLabels, customValues: Y_TICKS, margin: margin, fontSize: 12, color: '#222', fontFamily: FONT, formatter: plainNumber },
    splitLine: { show: false } };
}
function line(gi, data, color, width, dash) {
  return { type: 'line', xAxisIndex: gi, yAxisIndex: gi, data: data, symbol: 'none', showSymbol: false,
    silent: true, animation: false, clip: true,
    lineStyle: { color: color, width: width, type: dash || 'solid', cap: dash ? 'butt' : 'round', join: 'round' } };
}
function zeroLine(gi, color, width) {
  return line(gi, [[X_MIN, 0], [X_MAX, 0]], color, width, [2, 3]);
}
function band(gi, upper, lower, color) {
  return { type: 'custom', coordinateSystem: 'cartesian2d', xAxisIndex: gi, yAxisIndex: gi,
    silent: true, animation: false, clip: true, data: [upper[0]],
    renderItem: function (params, api) {
      const pts = upper.map(function (p) { return api.coord(p); })
        .concat(lower.slice().reverse().map(function (p) { return api.coord(p); }));
      return { type: 'polygon', shape: { points: pts }, style: { fill: color } };
    } };
}
function pairs(years, values) {
  return years.map(function (y, i) { return [y, values[i]]; });
}

// top row: seven GCM-RCM chains
const TOP_LEFT0 = 88.3, TOP_STEP = 169.7, TOP_W = 163.4, TOP_Y = 58.3, TOP_H = 181.7;
text(MAIN_TITLE, 637.5, 19, 19, '#111', { bold: true });
text(Y_NAME, 43, 149, 17, '#222', { rotation: Math.PI / 2 });
for (let i = 0; i < 7; i++) {
  const left = TOP_LEFT0 + i * TOP_STEP;
  grids.push({ left: left, top: TOP_Y, width: TOP_W, height: TOP_H, show: true,
    borderColor: '#222', borderWidth: 1, backgroundColor: 'transparent' });
  xAxes.push(xAxis(i, TOP_X_LABELS, 3, 9));
  yAxes.push(yAxis(i, i === 0, 8));
  const s = TOP_SERIES[i];
  series.push(zeroLine(i, '#444', 1));
  series.push(line(i, s[0], '#666', 1.2, [4, 3]));
  series.push(line(i, s[1], '#000', 3));
  for (let k = 0; k < 3; k++) series.push(line(i, s[2 + k], MEMBER_COLORS[k], 3));
  text(TOP_MODELS[i], left + TOP_W / 2, 45, 15, '#111', { bold: true });
  box(left, TOP_Y, 46, 69.5);
  const labels = ['ens'].concat(TOP_MEMBERS[i]);
  const colors = ['#333'].concat(MEMBER_COLORS);
  for (let k = 0; k < 4; k++) text(labels[k], left + 22, 73 + k * 14.2, 12.5, colors[k], { align: 'left' });
}

// bottom left: KNMI 16-member ensemble
const BL = 7;
grids.push({ left: 57, top: 355, width: 560, height: 204.5, show: true, borderColor: '#222', borderWidth: 1, backgroundColor: 'transparent' });
xAxes.push(xAxis(BL, X_TICKS, 0, 12));
yAxes.push(yAxis(BL, true, 13));
series.push(zeroLine(BL, '#777', 1.5));
series.push(band(BL, KNMI_OUTER_HI, KNMI_OUTER_LO, '#FEEACC'));
series.push(band(BL, KNMI_MID_HI, KNMI_MID_LO, '#FDCF86'));
series.push(band(BL, KNMI_IN_HI, KNMI_IN_LO, '#FFA90F'));
series.push(line(BL, KNMI_DASH_HI, '#777', 1.5, [5, 4]));
series.push(line(BL, KNMI_DASH_LO, '#777', 1.5, [5, 4]));
const KNMI_COLORS = ['#FF33FF', '#33DD33', '#FF3333', '#4444EE'];
[KNMI_MAGENTA, KNMI_GREEN, KNMI_RED, KNMI_BLUE].forEach(function (d, k) { series.push(line(BL, d, KNMI_COLORS[k], 1.4)); });
series.push(line(BL, KNMI_MEAN, '#000', 3.5));
text(SUB_TITLE, 319, 312.7, 19, '#111', { bold: true });
text(KNMI_TITLE, 337, 340, 15, '#111', { bold: true });
text(Y_NAME, 17, 457, 17, '#222', { rotation: Math.PI / 2 });
box(57, 355, 98, 75);
const KNMI_TEXT_COLORS = ['#FF33FF', '#33CC33', '#FF3333', '#4444FF', '#333'];
KNMI_LEGEND.forEach(function (t, k) { text(t, 75, 367 + k * 13, 10.5, KNMI_TEXT_COLORS[k], { align: 'left' }); });

// bottom right: CanESM2-CRCM5 50-member ensemble
const BR = 8;
grids.push({ left: 702, top: 355, width: 560, height: 204.5, show: true, borderColor: '#222', borderWidth: 1, backgroundColor: 'transparent' });
xAxes.push(xAxis(BR, X_TICKS, 0, 12));
yAxes.push(yAxis(BR, true, 13));
series.push(zeroLine(BR, '#777', 1.5));
series.push(band(BR, CAN_OUTER_HI, CAN_OUTER_LO, '#DDEEFC'));
series.push(band(BR, CAN_MID_HI, CAN_MID_LO, '#B5D8F8'));
series.push(band(BR, CAN_IN_HI, CAN_IN_LO, '#6CB4EE'));
series.push(line(BR, pairs(CAN_DASH_YEARS, CAN_DASH_HI), '#777', 1.5, [5, 4]));
series.push(line(BR, pairs(CAN_DASH_YEARS, CAN_DASH_LO), '#777', 1.5, [5, 4]));
const CAN_COLORS = ['#FF44FF', '#33CC33', '#FF3333', '#F2A530', '#B04C55'];
[CAN_MAGENTA, CAN_GREEN, CAN_RED, CAN_ORANGE, CAN_BROWN].forEach(function (v, k) {
  series.push(line(BR, pairs(CAN_YEARS, v), CAN_COLORS[k], 1.4));
});
series.push(line(BR, pairs(CAN_YEARS, CAN_MEAN), '#000', 3.5));
text(SUB_TITLE, 962, 312.7, 19, '#111', { bold: true });
text(CAN_TITLE, 982, 340, 15, '#111', { bold: true });
text(Y_NAME, 662, 457, 17, '#222', { rotation: Math.PI / 2 });
box(702, 355, 191, 86.5);
CAN_LEGEND.forEach(function (t, k) { text(t, 720, 367.3 + k * 12.8, 10.5, k < 5 ? CAN_COLORS[k] : '#333', { align: 'left' }); });

const chart = echarts.init(document.getElementById('chart'), null, { renderer: 'canvas' });
chart.setOption({
  animation: false,
  backgroundColor: '#fff',
  grid: grids,
  xAxis: xAxes,
  yAxis: yAxes,
  series: series,
  graphic: { elements: graphics }
});
</script>
</body>
</html>
